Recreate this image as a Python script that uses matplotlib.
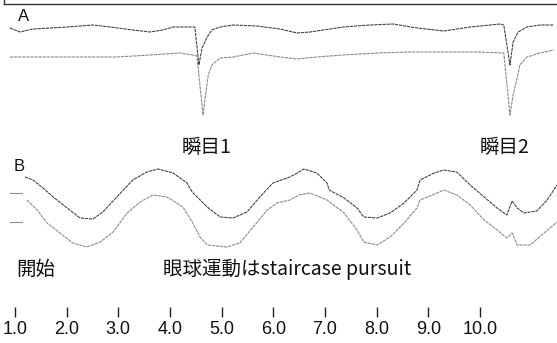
import matplotlib
matplotlib.use('Agg')
import matplotlib.pyplot as plt
from matplotlib.lines import Line2D

# 時間軸 (秒)
tick_times = [1.0, 2.0, 3.0, 4.0, 5.0, 6.0, 7.0, 8.0, 9.0, 10.0]
tick_labels = ['1.0', '2.0', '3.0', '4.0', '5.0', '6.0', '7.0', '8.0', '9.0', '10.0']

# A: 固視中の記録 (上下2チャンネル, 任意単位)
a_upper_t = [0.90, 1.10, 1.35, 2.01, 2.51, 2.84, 3.28, 3.61, 3.86, 4.06, 4.48, 4.56,
             4.62, 4.72, 4.81, 4.97, 5.22, 5.68, 6.13, 6.46, 6.71, 7.35, 7.87, 8.32,
             8.78, 9.30, 9.81, 10.39, 10.46, 10.58, 10.64, 10.74, 10.91, 11.16, 11.43]
a_upper_v = [0, -4, -1, 1, 3, 1, -2, -4, -2, 1, 1, -37,
             -20, -9, -2, 1, 3, 2, -1, -5, -4, 1, 3, 4,
             0, -3, 1, 4, 3, -37, -14, -4, 1, 3, 3]

a_lower_t = [0.90, 1.23, 1.68, 2.32, 2.97, 3.61, 4.19, 4.44, 4.52, 4.64, 4.68, 4.74,
             4.81, 4.97, 5.22, 5.61, 6.13, 6.46, 6.84, 7.35, 8.01, 8.64, 9.30, 9.94,
             10.46, 10.58, 10.64, 10.72, 10.77, 10.91, 11.16, 11.43]
a_lower_v = [-1, -1, -1, -1, -1, 1, 3, 1, 0, -59, -42, -19,
             -9, -2, -1, 3, -1, -3, -1, 1, 3, 4, 4, 4,
             3, -59, -39, -22, -9, -1, 3, 6]

# B: 追従眼球運動 (上下2チャンネル)
b_pre_t = [0.90, 1.14]
b_pre_upper_v = [2, 2]
b_pre_lower_v = [-2, -2]

b_upper_t = [1.19, 1.35, 1.54, 1.74, 2.01, 2.26, 2.51, 2.70, 2.97, 3.28, 3.55, 3.77,
             4.06, 4.33, 4.43, 4.72, 4.97, 5.22, 5.49, 5.74, 5.99, 6.32, 6.50, 6.59,
             6.84, 7.04, 7.08, 7.37, 7.62, 7.75, 8.01, 8.26, 8.53, 8.78, 8.84, 9.11,
             9.30, 9.55, 9.81, 10.08, 10.33, 10.52, 10.62, 10.72, 10.85, 11.10, 11.30, 11.49]
b_upper_v = [18, 15, 7, -2, -13, -23, -24, -17, -2, 15, 23, 26,
             22, 12, 3, -12, -22, -23, -17, -2, 12, 18, 23, 26,
             22, 12, 5, -3, -13, -22, -23, -18, -8, 5, 15, 22,
             25, 23, 10, -2, -13, -20, -6, -13, -18, -16, -5, 10]

b_lower_t = [1.23, 1.43, 1.62, 1.87, 2.12, 2.39, 2.65, 2.90, 3.17, 3.42, 3.67, 3.94,
             4.25, 4.43, 4.58, 4.72, 5.10, 5.35, 5.61, 5.88, 6.07, 6.32, 6.50, 6.71,
             7.04, 7.37, 7.62, 7.75, 8.01, 8.26, 8.53, 8.78, 8.84, 9.17, 9.30, 9.55,
             9.81, 10.08, 10.33, 10.52, 10.62, 10.72, 10.97, 11.24, 11.49]
b_lower_v = [20, 10, -3, -13, -23, -27, -22, -12, 7, 18, 25, 23,
             13, -2, -17, -25, -27, -23, -7, 10, 17, 20, 25, 27,
             20, 7, -10, -22, -25, -17, -3, 12, 20, 27, 30, 25,
             15, 0, -10, -18, -13, -25, -25, -13, -2]

# 描画位置 (各トレースの基線)
W, H = 557, 343
t_left, t_right = 0.7097, 11.49
base = {'a_up': -28, 'a_lo': -56, 'b_up': -195, 'b_lo': -220}
dark, light = '#444444', '#8c8c8c'
trace_ls = (0, (3, 0.7))

jp = ['Noto Sans CJK JP', 'DejaVu Sans']
latin = ['Liberation Sans', 'DejaVu Sans']


def fx(x, y):
	"""ピクセル位置 -> figure座標"""
	return x / W, 1 - y / H


def shift(vals, b):
	return [b + v for v in vals]


fig = plt.figure(figsize=(W / 100, H / 100), dpi=100)
ax = fig.add_axes([0, 0, 1, 1])
ax.set_xlim(t_left, t_right)
ax.set_ylim(-H, 0)
ax.axis('off')

# A
ax.plot(a_upper_t, shift(a_upper_v, base['a_up']), color=dark, lw=0.8, ls=trace_ls)
ax.plot(a_lower_t, shift(a_lower_v, base['a_lo']), color=light, lw=0.8, ls=trace_ls)

# B
ax.plot(b_pre_t, shift(b_pre_upper_v, base['b_up']), color=light, lw=0.8)
ax.plot(b_pre_t, shift(b_pre_lower_v, base['b_lo']), color=light, lw=0.8)
ax.plot(b_upper_t, shift(b_upper_v, base['b_up']), color=dark, lw=0.8, ls=trace_ls)
ax.plot(b_lower_t, shift(b_lower_v, base['b_lo']), color=light, lw=0.8, ls=trace_ls)

# 時間目盛り
ax.vlines(tick_times, -317, -307, color='#222222', lw=1.0)
for t, lab in zip(tick_times, tick_labels):
	ax.text(t, -329, lab, ha='center', va='center', fontsize=13,
	        family=latin, color='#111111')

# 枠線 (上部)
fig.add_artist(Line2D([fx(4, 0)[0], fx(4, 4)[0]], [fx(4, 0)[1], fx(4, 4)[1]],
                      color='#333333', lw=1.0))
fig.add_artist(Line2D([fx(4, 4)[0], 1.0], [fx(4, 4)[1], fx(4, 4)[1]],
                      color='#333333', lw=1.0))

# ラベル
fig.text(*fx(18, 21), 'A', fontsize=12, family=latin, color='#111111', va='baseline')
fig.text(*fx(14, 171), 'B', fontsize=12, family=latin, color='#111111', va='baseline')
fig.text(*fx(182, 158), '瞬目1', fontsize=14, family=jp, color='#111111', va='bottom')
fig.text(*fx(480, 158), '瞬目2', fontsize=14, family=jp, color='#111111', va='bottom')
fig.text(*fx(16, 280), '開始', fontsize=14, family=jp, color='#111111', va='bottom')
fig.text(*fx(163, 280), '眼球運動はstaircase pursuit', fontsize=14, family=jp,
         color='#111111', va='bottom')

fig.savefig('out.png', dpi=100)
